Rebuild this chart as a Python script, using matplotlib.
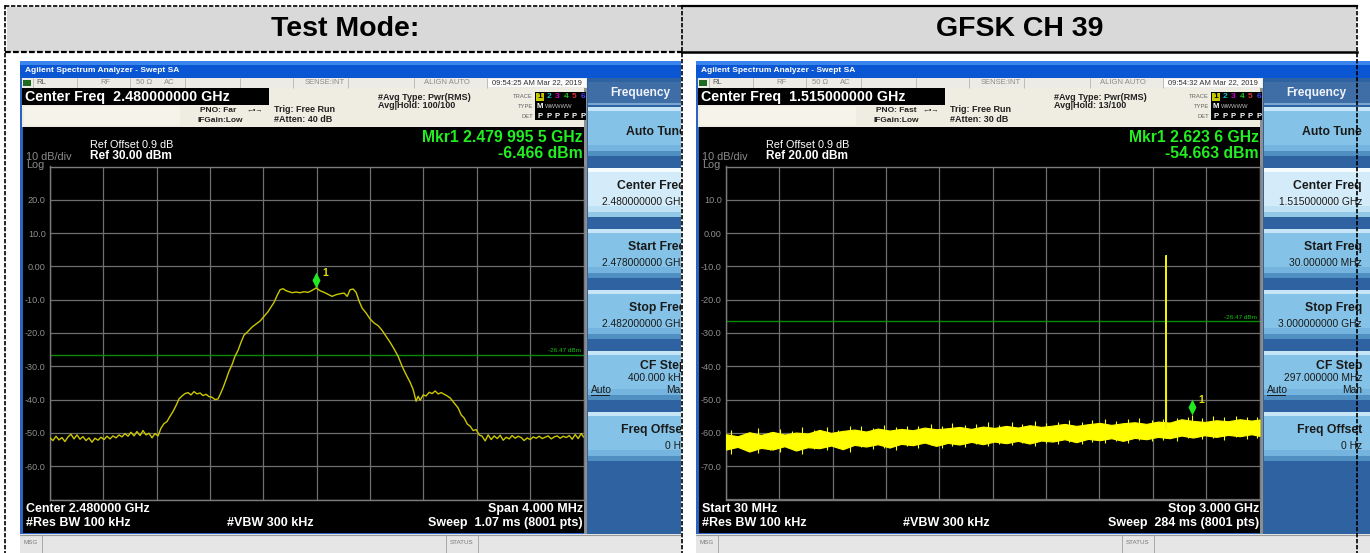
import matplotlib
matplotlib.use("Agg")
import matplotlib.pyplot as plt
from matplotlib.patches import Rectangle
from matplotlib.path import Path
import numpy as np

plt.rcParams['font.family'] = ['Liberation Sans', 'DejaVu Sans']

# ---------------------------------------------------------------- data
headers = ["Test Mode:", "GFSK CH 39"]

# Screen 1: centre 2.480 GHz, span 4 MHz; trace = offset from centre (kHz) / level (dBm)
s1_center_mhz = 2480.0
s1_span_khz = 4000.0
s1_ref_dbm = 30.0
s1_offset_khz = [-2000, -1978, -1955, -1933, -1910, -1888, -1865, -1843, -1820, -1798,
                 -1775, -1753, -1730, -1708, -1685, -1663, -1640, -1618, -1595, -1573,
                 -1550, -1528, -1505, -1483, -1460, -1438, -1415, -1393, -1370, -1348,
                 -1325, -1303, -1280, -1258, -1235, -1213, -1190,
                 -1168, -1145, -1123, -1100, -1078, -1055, -1033, -1010, -988, -965,
                 -943, -920, -898, -875, -853, -830, -808, -785, -763, -740,
                 -725,
                 -703, -680, -658, -635, -613, -590, -568, -545,
                 -515, -485, -455, -425, -395, -365,
                 -343, -320, -298, -275, -253, -230, -208,
                 -185,
                 -155, -125, -95, -65, -35, -4.5, 25, 55, 85, 115, 145, 175, 205,
                 228, 250, 273, 295, 318, 340,
                 370, 400, 430, 460, 490, 520, 550, 580, 610, 640, 670, 700,
                 723, 745, 760, 775, 798, 820, 843, 865, 888, 910,
                 933, 955, 978, 1000,
                 1030, 1060,
                 1083, 1105, 1128, 1150, 1173, 1195, 1218, 1240, 1263, 1285,
                 1308, 1330, 1353, 1375, 1398, 1420, 1443, 1465, 1488, 1510,
                 1533, 1555, 1578, 1600, 1623, 1645, 1668, 1690, 1713, 1735,
                 1758, 1780, 1803, 1825, 1848, 1870, 1893, 1915, 1938, 1960,
                 1983, 2000]
s1_level_dbm = [-51.5, -52.3, -51.0, -52.1, -51.4, -52.6, -51.2, -50.4, -51.8, -50.6,
                -51.9, -51.1, -52.3, -51.5, -52.8, -51.6, -52.2, -51.3, -52.0, -51.0,
                -51.8, -50.9, -51.5, -50.6, -51.2, -50.2, -51.0, -49.8, -50.9, -49.6,
                -50.8, -49.3, -50.6, -50.1, -51.5, -50.2, -50.9,
                -48.6, -47.2, -46.6, -45.0, -43.6, -41.8, -39.8, -38.9, -38.2, -37.9,
                -38.6, -37.6, -38.3, -38.0, -38.8, -38.4, -39.1, -39.3, -40.0, -39.8,
                -38.5,
                -36.5, -34.0, -31.5, -29.5, -27.0, -25.2, -22.8, -20.6,
                -19.5, -18.2, -17.3, -16.4, -15.0, -13.6,
                -12.2, -10.8, -8.8, -7.0, -6.7, -7.3, -7.6,
                -7.9,
                -7.7, -7.9, -7.6, -7.8, -7.2, -6.466, -7.3, -7.8, -8.4, -9.0, -8.5, -8.2, -8.0,
                -9.0, -7.0, -6.8, -7.8, -10.5, -12.5,
                -14.0, -15.8, -17.0, -17.8, -19.2, -21.0, -22.8, -24.8, -27.0, -30.0, -32.5, -34.8,
                -37.0, -40.5, -39.0, -40.2, -38.6, -38.9, -37.8, -38.2, -37.4, -38.3,
                -37.9, -38.4, -38.9, -39.5,
                -41.0, -42.5,
                -44.6, -45.5, -47.3, -48.0, -49.3, -49.0, -50.6, -51.0, -52.4, -50.6,
                -52.0, -50.9, -51.7, -50.7, -52.2, -51.3, -51.8, -50.8, -51.6, -51.0,
                -51.4, -52.3, -51.5, -52.0, -51.2, -51.6, -51.0, -51.7, -51.3, -50.9,
                -51.8, -51.2, -50.9, -51.6, -51.0, -51.4, -50.8, -51.9, -50.5, -51.7,
                -50.2, -51.2]
s1_marker_khz = -4.5
s1_marker_dbm = -6.466

# Screen 2: 30 MHz - 3 GHz sweep; noise floor envelope plus individual excursions
s2_start_mhz = 30.0
s2_stop_mhz = 3000.0
s2_ref_dbm = 20.0
s2_freq_mhz = [30, 95, 160, 225, 290, 355, 420, 485, 550, 615,
               680, 745, 810, 875, 940, 1005, 1070, 1135, 1200, 1265,
               1330, 1395, 1460, 1525, 1590, 1655, 1720, 1785, 1850, 1915,
               1980, 2045, 2110, 2175, 2240, 2305, 2370, 2435, 2500, 2565,
               2630, 2695, 2760, 2825, 2890, 2955, 3000]
s2_floor_low = [-65.0, -64.2, -65.6, -64.5, -65.0, -64.0, -65.3, -64.3, -64.6, -63.8,
                -64.9, -63.6, -64.1, -63.4, -64.4, -63.3, -63.7, -62.9, -63.9, -63.0,
                -63.5, -62.7, -63.4, -62.6, -63.1, -62.4, -63.2, -62.3, -62.6, -61.9,
                -62.8, -61.8, -62.2, -61.6, -62.4, -61.5, -61.9, -61.2, -61.6, -60.8,
                -61.4, -60.7, -61.2, -60.6, -61.0, -60.4, -60.9]
s2_floor_high = [-60.4, -61.0, -59.8, -60.6, -59.7, -60.5, -59.9, -60.2, -59.1, -60.0,
                 -59.4, -59.0, -59.6, -58.7, -59.3, -58.8, -59.2, -58.4, -58.9, -58.6,
                 -58.2, -58.8, -58.1, -58.5, -57.9, -58.4, -57.7, -58.2, -57.8, -57.3,
                 -57.9, -57.4, -57.0, -57.6, -57.1, -56.8, -57.3, -56.6, -56.9, -55.9,
                 -56.4, -56.7, -56.2, -56.5, -55.9, -56.3, -56.0]
s2_burst_mhz = [60, 140, 210, 275, 330, 400, 455, 520, 590, 655,
                720, 780, 850, 910, 975, 1040, 1100, 1170, 1230, 1290,
                1360, 1420, 1490, 1550, 1620, 1680, 1750, 1810, 1880, 1940,
                2010, 2070, 2140, 2200, 2270, 2330, 2400, 2460, 2540, 2600,
                2624, 2680, 2740, 2800, 2870, 2930, 2985]
s2_burst_low = [-66.3, -65.0, -66.0, -65.2, -65.8, -64.8, -66.2, -64.9, -65.1, -64.6,
                -65.7, -64.2, -64.9, -64.5, -65.0, -63.9, -64.6, -63.6, -64.4, -63.8,
                -64.2, -63.4, -64.0, -63.2, -63.7, -63.1, -63.8, -63.0, -63.4, -62.7,
                -63.3, -62.6, -62.9, -62.4, -63.0, -62.2, -62.5, -62.0, -62.3, -61.6,
                -60.5, -61.8, -61.4, -62.0, -61.2, -61.7, -61.5]
s2_burst_high = [-59.2, -60.0, -58.6, -59.8, -58.9, -59.4, -58.3, -59.0, -58.2, -59.1,
                 -58.0, -57.9, -58.6, -57.6, -58.3, -57.8, -58.0, -57.4, -57.9, -56.9,
                 -57.6, -57.2, -56.8, -57.5, -56.7, -57.2, -56.3, -57.0, -56.6, -56.1,
                 -56.8, -56.0, -55.9, -56.5, -55.8, -55.6, -56.2, -55.7, -55.5, -55.2,
                 -54.663, -55.4, -55.0, -55.3, -54.9, -55.2, -55.1]
s2_carrier_mhz = [2479.0, 2480.0, 2481.0]
s2_carrier_dbm = [-58.5, -6.8, -58.2]
s2_marker_mhz = 2623.6
s2_marker_dbm = -54.663

limit_dbm = -26.47

screens = [
    dict(time="09:54:25 AM Mar 22, 2019", center="Center Freq  2.480000000 GHz",
         pno="PNO: Far", atten="#Atten: 40 dB", hold="Avg|Hold: 100/100",
         ref="Ref 30.00 dBm", mkr="Mkr1 2.479 995 5 GHz", mkr_val="-6.466 dBm",
         bl="Center 2.480000 GHz", br="Span 4.000 MHz", sweep="Sweep  1.07 ms (8001 pts)",
         keys=[("Auto Tune", None), ("Center Freq", "2.480000000 GHz"),
               ("Start Freq", "2.478000000 GHz"), ("Stop Freq", "2.482000000 GHz"),
               ("CF Step", "400.000 kHz"), ("Freq Offset", "0 Hz")]),
    dict(time="09:54:32 AM Mar 22, 2019", center="Center Freq  1.515000000 GHz",
         pno="PNO: Fast", atten="#Atten: 30 dB", hold="Avg|Hold: 13/100",
         ref="Ref 20.00 dBm", mkr="Mkr1 2.623 6 GHz", mkr_val="-54.663 dBm",
         bl="Start 30 MHz", br="Stop 3.000 GHz", sweep="Sweep  284 ms (8001 pts)",
         keys=[("Auto Tune", None), ("Center Freq", "1.515000000 GHz"),
               ("Start Freq", "30.000000 MHz"), ("Stop Freq", "3.000000000 GHz"),
               ("CF Step", "297.000000 MHz"), ("Freq Offset", "0 Hz")]),
]

# ---------------------------------------------------------------- figure
W, H = 1370, 553
fig = plt.figure(figsize=(W / 100, H / 100), dpi=100)
fig.patch.set_facecolor('white')


def px_axes(x0, y0, x1, y1, z):
    ax = fig.add_axes([x0 / W, 1 - y1 / H, (x1 - x0) / W, (y1 - y0) / H])
    ax.set_zorder(z)
    return ax


def rect(ax, x, y, w, h, fc, z=1):
    ax.add_patch(Rectangle((x, y), w, h, facecolor=fc, edgecolor='none',
                           zorder=z, clip_on=True))


def txt(ax, x, y, s, size, color='black', weight='normal', ha='left', va='center', z=5):
    return ax.text(x, y, s, fontsize=size, color=color, fontweight=weight,
                   ha=ha, va=va, zorder=z, clip_on=True)


def vline(ax, x, y0, y1, color, lw=0.6, z=2):
    ax.plot([x, x], [y0, y1], color=color, lw=lw, zorder=z, solid_capstyle='butt')


def draw_screen(ax, info):
    # window frame and title bar
    rect(ax, 20, 61, 700, 492, '#2a63c4')
    rect(ax, 20, 61, 700, 17, '#0b56d2')
    rect(ax, 20, 61, 700, 4, '#3a84ee')
    txt(ax, 25, 70, "Agilent Spectrum Analyzer - Swept SA", 6, 'white', 'bold')

    # status row
    rect(ax, 22, 78, 565, 10, '#ecebe5', z=2)
    for sx in [33, 77, 130, 185, 240, 293, 348, 414, 487]:
        vline(ax, sx, 78, 88, '#b8b5ad', z=3)
    rect(ax, 23, 80, 8, 6, '#1f6b1f', z=3)
    txt(ax, 36, 83, "RL", 5.5, '#555555')
    txt(ax, 100, 83, "RF", 5.5, '#8a8a8a')
    txt(ax, 136, 83, "50 \u03a9", 5.5, '#8a8a8a')
    txt(ax, 164, 83, "AC", 5.5, '#8a8a8a')
    txt(ax, 325, 83, "SENSE:INT", 5.5, '#8a8a8a', ha='center')
    txt(ax, 447, 83, "ALIGN AUTO", 5.5, '#8a8a8a', ha='center')
    rect(ax, 488, 79, 98, 8, '#fbfbfb', z=3)
    txt(ax, 537, 83, info['time'], 5.5, '#333333', ha='center')

    # settings row
    rect(ax, 22, 88, 565, 39, '#efece1', z=2)
    rect(ax, 22, 88, 247, 17, '#000000', z=3)
    rect(ax, 24, 107, 156, 18, '#f5f3ea', z=3)
    txt(ax, 25, 97, info['center'], 10.3, 'white', 'bold')
    txt(ax, 200, 110, info['pno'], 6, '#222222', 'bold')
    txt(ax, 247, 110, "\u2190\u2022\u2192", 5, '#222222')
    txt(ax, 197, 120, "IFGain:Low", 6, '#222222', 'bold')
    txt(ax, 274, 109, "Trig: Free Run", 6.5, '#222222', 'bold')
    txt(ax, 274, 119, info['atten'], 6.5, '#222222', 'bold')
    txt(ax, 378, 97, "#Avg Type: Pwr(RMS)", 6.5, '#222222', 'bold')
    txt(ax, 378, 106, info['hold'], 6.5, '#222222', 'bold')
    txt(ax, 533, 97, "TRACE", 4.2, '#666666', ha='right')
    txt(ax, 533, 107, "TYPE", 4.2, '#666666', ha='right')
    txt(ax, 533, 116, "DET", 4.2, '#666666', ha='right')
    rect(ax, 535, 92, 51, 28, '#000000', z=3)
    rect(ax, 536, 93, 8, 8, '#c8c800', z=4)
    for i, c in enumerate(['#000000', '#00c8c8', '#d000d0', '#20c020', '#e03030', '#4040ff']):
        txt(ax, 540 + 8.6 * i, 97, str(i + 1), 6, c, 'bold', ha='center', z=6)
        txt(ax, 540 + 8.6 * i, 116, "P", 5.5, 'white', 'bold', ha='center', z=6)
    txt(ax, 540, 107, "M", 5.5, 'white', 'bold', ha='center', z=6)
    txt(ax, 545, 107, "WWWWW", 4.2, '#bbbbbb', z=6)

    # display area
    rect(ax, 23, 127, 561, 406, '#000000', z=2)
    rect(ax, 584, 88, 3, 446, '#8e8e8e', z=2)
    txt(ax, 90, 145, "Ref Offset 0.9 dB", 7.8, 'white')
    txt(ax, 26, 157, "10 dB/div", 7.8, '#8c8c8c')
    txt(ax, 26, 165, "Log", 7.8, '#8c8c8c')
    txt(ax, 90, 156, info['ref'], 8.6, 'white', 'bold')
    txt(ax, 583, 137, info['mkr'], 11.3, '#22ee22', 'bold', ha='right')
    txt(ax, 583, 153, info['mkr_val'], 11.3, '#22ee22', 'bold', ha='right')
    txt(ax, 26, 509, info['bl'], 9, 'white', 'bold')
    txt(ax, 26, 523, "#Res BW 100 kHz", 9, 'white', 'bold')
    txt(ax, 227, 523, "#VBW 300 kHz", 9, 'white', 'bold')
    txt(ax, 583, 509, info['br'], 9, 'white', 'bold', ha='right')
    txt(ax, 583, 523, info['sweep'], 9, 'white', 'bold', ha='right')

    # message bar
    rect(ax, 20, 534, 700, 19, '#e6e6e6', z=2)
    ax.plot([20, 720], [534.5, 534.5], color='#9a9a9a', lw=0.8, zorder=3)
    txt(ax, 24, 543, "MSG", 4.5, '#777777')
    vline(ax, 42, 535, 553, '#a0a0a0', z=3)
    vline(ax, 446, 535, 553, '#a0a0a0', z=3)
    vline(ax, 478, 535, 553, '#a0a0a0', z=3)
    txt(ax, 462, 543, "STATUS", 4.5, '#777777', ha='center')

    # softkey panel
    rect(ax, 587, 78, 133, 456, '#2f62a0', z=2)
    rect(ax, 588, 82, 132, 23, '#3f6ea6', z=3)
    rect(ax, 588, 103, 132, 2, '#7aa6d2', z=3)
    txt(ax, 640, 93, "Frequency", 8.6, '#f0f4fa', 'bold', ha='center')
    tops = [107, 168, 229, 290, 351, 412]
    for k, ((title, value), top) in enumerate(zip(info['keys'], tops)):
        selected = (k == 1)
        body = '#d4ecf9' if selected else '#84c3e7'
        hi = '#f4fbff' if selected else '#c6e6f7'
        mid = '#bfe2f4' if selected else '#74b4de'
        lo = '#93c7e6' if selected else '#4f8fc2'
        rect(ax, 588, top, 132, 49, body, z=3)
        rect(ax, 588, top, 132, 4, hi, z=4)
        rect(ax, 588, top + 38, 132, 6, mid, z=4)
        rect(ax, 588, top + 44, 132, 5, lo, z=4)
        if title == "Auto Tune":
            txt(ax, 686, top + 25, title, 8.8, '#1a1a1a', 'bold', ha='right')
        elif title == "CF Step":
            txt(ax, 686, top + 15, title, 8.8, '#1a1a1a', 'bold', ha='right')
            txt(ax, 686, top + 27, value, 7.4, '#1a1a1a', ha='right')
            txt(ax, 591, top + 39, "Auto", 7.4, '#1a1a1a')
            ax.plot([591, 609], [top + 44, top + 44], color='#1a1a1a', lw=0.7, zorder=6)
            txt(ax, 686, top + 39, "Man", 7.4, '#1a1a1a', ha='right')
        else:
            txt(ax, 686, top + 18, title, 8.8, '#1a1a1a', 'bold', ha='right')
            txt(ax, 686, top + 34, value, 7.4, '#1a1a1a', ha='right')


def style_graticule(ax, xlo, xhi, ref):
    ax.set_facecolor('black')
    ax.set_xlim(xlo, xhi)
    ax.set_ylim(ref - 100, ref)
    ax.set_xticks(np.linspace(xlo, xhi, 11))
    yt = np.linspace(ref - 100, ref, 11)
    ax.set_yticks(yt)
    labels = []
    for v in yt:
        if v == ref or v == ref - 100:
            labels.append('')
        elif v == 0:
            labels.append('0.00')
        else:
            labels.append(f'{v:.1f}')
    ax.set_yticklabels(labels)
    ax.set_xticklabels([])
    ax.tick_params(length=0, labelsize=6.6, labelcolor='#8e8e8e', pad=3)
    ax.grid(True, color='#6f6f6f', lw=0.9)
    ax.set_axisbelow(True)
    for s in ax.spines.values():
        s.set_color('#7c7c7c')
        s.set_linewidth(1.0)
    ax.axhline(limit_dbm, color='#0a8a0a', lw=1.0, zorder=2)
    ax.annotate(f"{limit_dbm:.2f} dBm", xy=(1, limit_dbm), xycoords=('axes fraction', 'data'),
                xytext=(-1.5, 1.2), textcoords='offset points', ha='right', va='bottom',
                fontsize=4.6, color='#10c010')


# marker glyph: diamond whose lower tip sits on the data point
diamond = Path([(0, 0), (0.5, 1), (0, 2), (-0.5, 1), (0, 0)],
               [Path.MOVETO, Path.LINETO, Path.LINETO, Path.LINETO, Path.CLOSEPOLY])


def draw_marker(ax, x, y):
    ax.plot([x], [y], marker=diamond, markersize=23, color='#22e822',
            markeredgewidth=0, zorder=6, clip_on=False)
    ax.annotate("1", xy=(x, y), xytext=(4.5, 11), textcoords='offset points',
                fontsize=7.5, color='#e0e000', fontweight='bold', ha='left', va='center',
                zorder=7)


offsets = [0, 676]
for info, dx in zip(screens, offsets):
    right = min(681 if dx == 0 else W, 20 + dx + 700)
    ax = px_axes(20 + dx, 60, right, H, z=1)
    ax.set_xlim(20, right - dx)
    ax.set_ylim(H, 60)
    ax.axis('off')
    draw_screen(ax, info)

# screen 1 trace
g1 = px_axes(50, 166.5, 583.5, 499.5, z=2)
style_graticule(g1, -s1_span_khz / 2, s1_span_khz / 2, s1_ref_dbm)
g1.plot(s1_offset_khz, s1_level_dbm, color='#cbc800', lw=1.0, zorder=4)
draw_marker(g1, s1_marker_khz, s1_marker_dbm)

# screen 2 trace
g2 = px_axes(50 + 676, 166.5, 583.5 + 676, 499.5, z=2)
style_graticule(g2, s2_start_mhz, s2_stop_mhz, s2_ref_dbm)
g2.fill_between(s2_freq_mhz, s2_floor_low, s2_floor_high, color='#ffff00', lw=0.8,
                edgecolor='#ffff00', zorder=4)
g2.vlines(s2_burst_mhz, s2_burst_low, s2_burst_high, color='#ffff00', lw=0.8, zorder=4)
g2.plot(s2_carrier_mhz, s2_carrier_dbm, color='#f0f000', lw=1.2, zorder=4)
draw_marker(g2, s2_marker_mhz, s2_marker_dbm)

# table frame and header row
top = px_axes(0, 0, W, H, z=5)
top.set_xlim(0, W)
top.set_ylim(H, 0)
top.axis('off')
top.patch.set_alpha(0)
rect(top, 7, 7, 1349, 45, '#d9d9d9')
top.text(345, 29, headers[0], fontsize=20.5, fontweight='bold', ha='center', va='center')
top.text(1020, 29, headers[1], fontsize=20.5, fontweight='bold', ha='center', va='center')
dash = (0, (2.6, 1.0))
top.plot([5.5, 5.5], [5, H], color='black', lw=1.2, ls=dash)
top.plot([682, 682], [5, H], color='black', lw=1.2, ls=dash)
top.plot([1357, 1357], [5, H], color='black', lw=1.2, ls=dash)
top.plot([5, 682], [5.5, 5.5], color='black', lw=1.2, ls=dash)
top.plot([5, 682], [52, 52], color='black', lw=1.6, ls=dash)
top.plot([682, 1357], [5.5, 5.5], color='black', lw=1.6)
top.plot([682, 1357], [52, 52], color='black', lw=1.8)

fig.savefig("out.png", dpi=100, facecolor='white')
